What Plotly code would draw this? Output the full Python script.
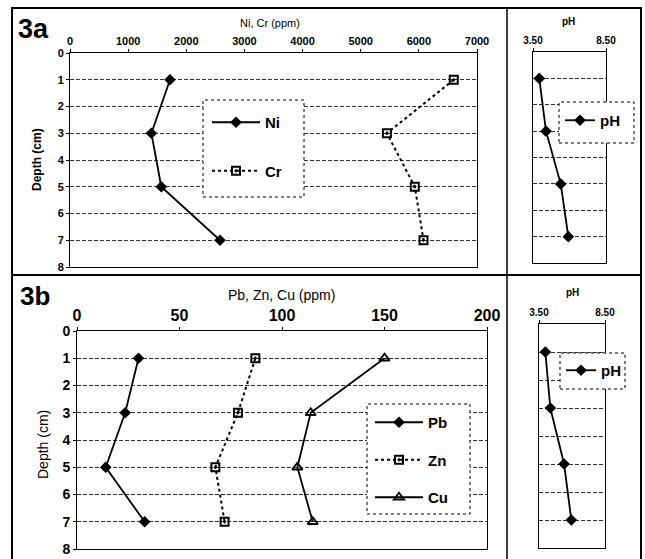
import plotly.graph_objects as go

W, H = 645, 559

# ---------------- data ----------------
depth = [1, 3, 5, 7]
ni = [1720, 1400, 1570, 2580]
cr = [6600, 5450, 5930, 6080]
ph_a = [3.93, 4.39, 5.40, 5.92]
pb = [30, 23.5, 14, 33]
zn = [87, 78.5, 67.5, 72]
cu = [150, 114, 107.5, 115]
ph_b = [3.98, 4.36, 5.40, 5.95]

depth_ticks = list(range(0, 9))
ph_tickvals = [3.5, 8.5]
ph_ticktext = ["3.50", "8.50"]


def fx(x):
    return x / W


def fy(y):
    return 1 - y / H


FONT = "Liberation Sans, Arial, sans-serif"

fig = go.Figure()

line_solid = dict(color="black", width=1.8)
line_dot = dict(color="black", width=2, dash="dot")

# 3a main
fig.add_trace(go.Scatter(x=ni, y=depth, name="Ni", mode="lines+markers", line=line_solid,
                         marker=dict(symbol="diamond", size=9, color="black"),
                         xaxis="x", yaxis="y", legend="legend", legendgroup="a1"))
fig.add_trace(go.Scatter(x=cr, y=depth, name="Cr", mode="lines+markers", line=line_dot,
                         marker=dict(symbol="square-open-dot", size=8, color="black",
                                     line=dict(width=2, color="black")),
                         xaxis="x", yaxis="y", legend="legend", legendgroup="a2"))
# 3a pH
fig.add_trace(go.Scatter(x=ph_a, y=depth, name="pH", mode="lines+markers", line=line_solid,
                         marker=dict(symbol="diamond", size=9, color="black"),
                         xaxis="x2", yaxis="y2", legend="legend2"))
# 3b main
fig.add_trace(go.Scatter(x=pb, y=depth, name="Pb", mode="lines+markers", line=line_solid,
                         marker=dict(symbol="diamond", size=9, color="black"),
                         xaxis="x3", yaxis="y3", legend="legend3", legendgroup="b1"))
fig.add_trace(go.Scatter(x=zn, y=depth, name="Zn", mode="lines+markers", line=line_dot,
                         marker=dict(symbol="square-open-dot", size=8, color="black",
                                     line=dict(width=2, color="black")),
                         xaxis="x3", yaxis="y3", legend="legend3", legendgroup="b2"))
fig.add_trace(go.Scatter(x=cu, y=depth, name="Cu", mode="lines+markers", line=line_solid,
                         marker=dict(symbol="triangle-up-open", size=9, color="black",
                                     line=dict(width=1.8, color="black")),
                         xaxis="x3", yaxis="y3", legend="legend3", legendgroup="b3"))
# 3b pH
fig.add_trace(go.Scatter(x=ph_b, y=depth, name="pH", mode="lines+markers", line=line_solid,
                         marker=dict(symbol="diamond", size=9, color="black"),
                         xaxis="x4", yaxis="y4", legend="legend4"))


def xax(domain, rng, anchor, size, **kw):
    d = dict(domain=domain, range=rng, anchor=anchor, side="top", showline=True,
             linecolor="black", linewidth=1, mirror=True, showgrid=False, zeroline=False,
             automargin=False, ticks="outside", ticklen=3, tickcolor="black",
             tickfont=dict(family=FONT, size=size, color="black", weight="bold"))
    d.update(kw)
    return d


def yax(domain, anchor, size, labels=True):
    return dict(domain=domain, range=[8, 0], anchor=anchor, showline=True, linecolor="black",
                linewidth=1, mirror=True, tickvals=depth_ticks, showticklabels=labels,
                ticks="outside" if labels else "", ticklen=3, tickcolor="black",
                showgrid=True, gridcolor="#333", gridwidth=1, griddash="4px,2px",
                zeroline=False, automargin=False,
                tickfont=dict(family=FONT, size=size, color="black", weight="bold"))


fig.update_layout(
    width=W, height=H, autosize=False,
    margin=dict(l=0, r=0, t=0, b=0, autoexpand=False),
    paper_bgcolor="white", plot_bgcolor="white",
    xaxis=xax([fx(70), fx(477)], [0, 7000], "y", 11, dtick=1000),
    yaxis=yax([fy(267), fy(53)], "x", 11),
    xaxis2=xax([fx(533), fx(606)], [3.5, 8.5], "y2", 10, tickvals=ph_tickvals, ticktext=ph_ticktext),
    yaxis2=yax([fy(263), fy(52)], "x2", 10, labels=False),
    xaxis3=xax([fx(77), fx(487)], [0, 200], "y3", 16, dtick=50),
    yaxis3=yax([fy(549), fy(331)], "x3", 14),
    xaxis4=xax([fx(539), fx(605)], [3.5, 8.5], "y4", 10, tickvals=ph_tickvals, ticktext=ph_ticktext),
    yaxis4=yax([fy(548), fy(324)], "x4", 10, labels=False),
    showlegend=True,
)

leg_common = dict(bgcolor="rgba(0,0,0,0)", borderwidth=0, xanchor="left", yanchor="top",
                  traceorder="grouped", itemwidth=48,
                  font=dict(family=FONT, size=15, color="black", weight="bold"))
fig.update_layout(
    legend=dict(leg_common, x=fx(207), y=fy(106), tracegroupgap=26),
    legend2=dict(leg_common, x=fx(560), y=fy(104), itemwidth=30),
    legend3=dict(leg_common, x=fx(370), y=fy(406), tracegroupgap=15),
    legend4=dict(leg_common, x=fx(561), y=fy(354), itemwidth=30),
)

shapes = []
# legend boxes (white fill, dotted border)
for x0, y0, x1, y1 in [(203, 100, 304, 197), (559, 102, 634, 143),
                       (367, 404, 470, 514), (560, 353, 625, 389)]:
    shapes.append(dict(type="rect", xref="paper", yref="paper", x0=fx(x0), x1=fx(x1),
                       y0=fy(y1), y1=fy(y0), fillcolor="white",
                       line=dict(color="black", width=1, dash="dot"), layer="above"))
# outer frame and dividers
shapes.append(dict(type="rect", xref="paper", yref="paper", x0=fx(12), x1=fx(641),
                   y0=fy(570), y1=fy(8), line=dict(color="black", width=2)))
shapes.append(dict(type="line", xref="paper", yref="paper", x0=fx(12), x1=fx(641),
                   y0=fy(275), y1=fy(275), line=dict(color="black", width=2)))
shapes.append(dict(type="line", xref="paper", yref="paper", x0=fx(507), x1=fx(507),
                   y0=fy(8), y1=fy(570), line=dict(color="black", width=1.5)))
fig.update_layout(shapes=shapes)

ann = []


def add_text(text, x, y, size, bold=False, angle=0):
    ann.append(dict(text=text, x=fx(x), y=fy(y), xref="paper", yref="paper",
                    showarrow=False, xanchor="center", yanchor="middle", textangle=angle,
                    font=dict(family=FONT, size=size, color="black",
                              weight="bold" if bold else "normal")))


add_text("3a", 33, 29, 27, bold=True)
add_text("3b", 35, 296, 26, bold=True)
add_text("Ni, Cr (ppm)", 270, 23, 11)
add_text("Pb, Zn, Cu (ppm)", 281, 295, 14)
add_text("Depth (cm)", 37, 160, 12, bold=True, angle=-90)
add_text("Depth (cm)", 43, 445, 14, angle=-90)
add_text("pH", 568, 21, 10, bold=True)
add_text("pH", 572, 292, 10, bold=True)
fig.update_layout(annotations=ann)

fig.write_html("out.html", config={"displayModeBar": False},
               post_script="document.body.style.margin='0';document.body.style.overflow='hidden';")
